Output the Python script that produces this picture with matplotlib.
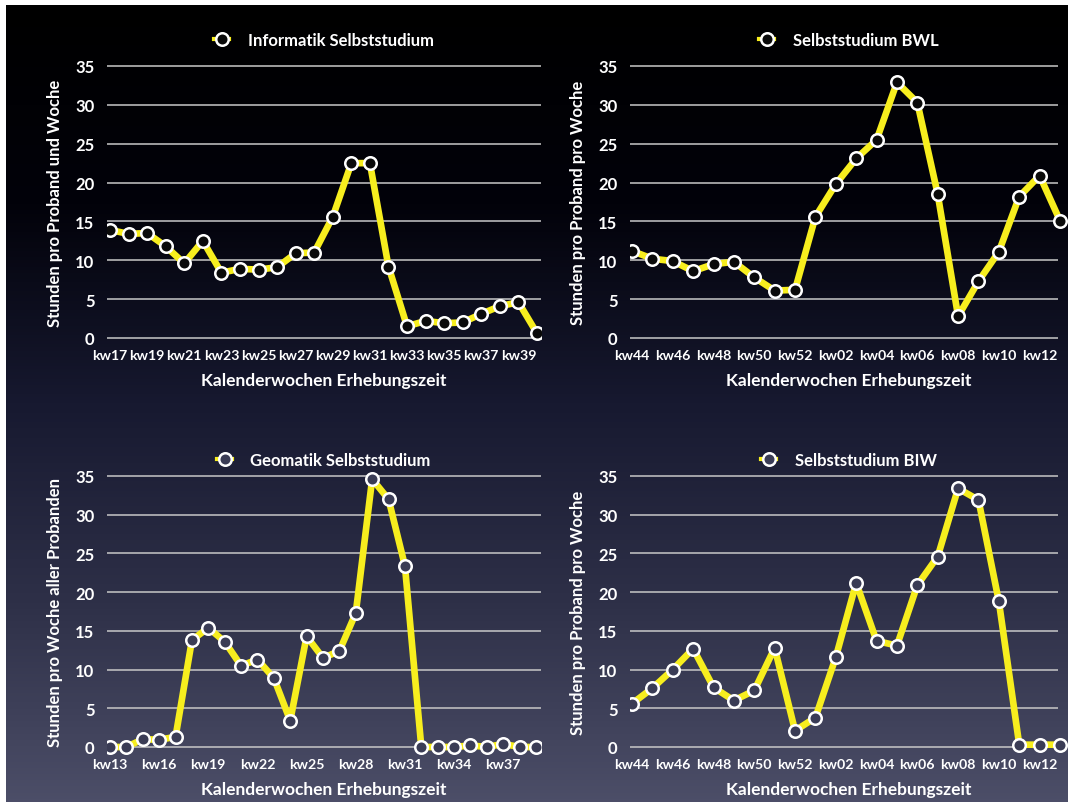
import numpy as np
import matplotlib.pyplot as plt
from matplotlib.colors import LinearSegmentedColormap

# ===================== 数据 =====================
# Informatik Selbststudium: kw17 .. kw40
inf_weeks = [f"kw{w}" for w in range(17, 41)]
inf_values = [13.9, 13.4, 13.5, 11.8, 9.6, 12.5, 8.4, 8.9, 8.8, 9.1, 10.9, 11.0,
              15.6, 22.5, 22.5, 9.2, 1.5, 2.2, 1.9, 2.0, 3.1, 4.1, 4.6, 0.6]

# Selbststudium BWL: kw44 .. kw52, kw01 .. kw13
bwl_weeks = [f"kw{w}" for w in range(44, 53)] + [f"kw{w:02d}" for w in range(1, 14)]
bwl_values = [11.2, 10.2, 9.9, 8.6, 9.5, 9.8, 7.8, 6.1, 6.2, 15.6, 19.8, 23.1,
              25.5, 32.9, 30.3, 18.5, 2.8, 7.3, 11.1, 18.2, 20.9, 15.1]

# Geomatik Selbststudium: kw13 .. kw39
geo_weeks = [f"kw{w}" for w in range(13, 40)]
geo_values = [0.0, 0.0, 1.0, 0.95, 1.3, 13.8, 15.4, 13.6, 10.5, 11.3, 8.9, 3.4,
              14.3, 11.5, 12.4, 17.3, 34.6, 32.0, 23.4, 0.0, 0.0, 0.0, 0.2, 0.0,
              0.4, 0.0, 0.0]

# Selbststudium BIW: kw44 .. kw52, kw01 .. kw13
biw_weeks = bwl_weeks
biw_values = [5.6, 7.6, 10.0, 12.7, 7.7, 6.0, 7.3, 12.8, 2.1, 3.8, 11.6, 21.2,
              13.7, 13.1, 20.9, 24.6, 33.4, 31.9, 18.8, 0.3, 0.3, 0.3]

y_ticks = [0, 5, 10, 15, 20, 25, 30, 35]

# ===================== 样式 =====================
plt.rcParams['font.family'] = ['Lato', 'DejaVu Sans']
plt.rcParams['font.weight'] = 'bold'

W, H = 1068, 803
fig = plt.figure(figsize=(W / 100, H / 100), dpi=100, facecolor='white')

# 背景渐变
bg = fig.add_axes([6 / W, 0, 1 - 6 / W, 1 - 6 / H], zorder=-10)
cmap = LinearSegmentedColormap.from_list(
    'bg', [(0.0, '#000000'), (0.25, '#02020a'), (0.5, '#171930'),
           (0.75, '#2e3048'), (1.0, '#4c4e68')])
grad = np.linspace(0, 1, 256).reshape(-1, 1)
bg.imshow(grad, aspect='auto', cmap=cmap, extent=[0, 1, 0, 1], origin='upper')
bg.set_axis_off()

YELLOW = '#f7ee1e'
TXT = 'white'


def px_axes(left, right, top, bottom):
    return fig.add_axes([left / W, 1 - bottom / H, (right - left) / W, (bottom - top) / H])


def panel(box, weeks, values, title, ylabel, step, first_px, last_px,
          y0_px, y35_px, face, legend_y, xlabel_pad):
    left, right, top, bottom = box
    ax = px_axes(left, right, top, bottom)
    ax.set_facecolor('none')
    n = len(values)
    x = np.arange(n)
    # x 轴范围: 索引 0 在 first_px, 最后一个在 last_px
    sx = (last_px - first_px) / (n - 1)
    ax.set_xlim((left - first_px) / sx, (n - 1) + (right - last_px) / sx)
    sy = (y0_px - y35_px) / 35
    ax.set_ylim(-(bottom - y0_px) / sy, 35 + (y35_px - top) / sy)

    gl, gr = (left - first_px) / sx, (n - 1) + (min(right, 1058) - last_px) / sx
    for t in y_ticks:
        ax.plot([gl, gr], [t, t], color='#c8c8c8', lw=1.1, zorder=1,
                solid_capstyle='butt')

    ax.plot(x, values, color=YELLOW, lw=4.8, zorder=2,
            marker='o', ms=9.0, mfc=face, mec='white', mew=1.8,
            label=title, clip_on=True)

    ax.set_xticks(x[::step])
    ax.set_xticklabels(weeks[::step])
    ax.set_yticks(y_ticks)
    ax.tick_params(length=0, colors=TXT, labelsize=10.2, pad=3)
    ax.tick_params(axis='y', labelsize=12, pad=9)
    for lbl in ax.get_xticklabels() + ax.get_yticklabels():
        lbl.set_fontweight('bold')
    for s in ax.spines.values():
        s.set_visible(False)

    ax.set_ylabel(ylabel, color=TXT, fontsize=12, fontweight='bold', labelpad=9)
    ax.set_xlabel('Kalenderwochen Erhebungszeit', color=TXT, fontsize=12.5,
                  fontweight='bold', labelpad=xlabel_pad)

    leg = ax.legend(loc='center', bbox_to_anchor=(0.5, 1 - (legend_y - top) / (bottom - top)),
                    frameon=False, handlelength=0.9, handletextpad=1.1,
                    prop={'size': 12, 'weight': 'bold'})
    for t in leg.get_texts():
        t.set_color(TXT)
    for h in leg.legend_handles:
        h.set_linewidth(3)
        h.set_markersize(9)
    return ax


panel((107, 541, 60, 346), inf_weeks, inf_values, 'Informatik Selbststudium',
      'Stunden pro Proband und Woche', 2, 110, 537, 339, 67, '#0a0a0a', 41, 8)
panel((630, 1068, 60, 346), bwl_weeks, bwl_values, 'Selbststudium BWL',
      'Stunden pro Proband pro Woche', 2, 632, 1060, 339, 67, '#0a0a0a', 41, 8)
panel((107, 541, 470, 755), geo_weeks, geo_values, 'Geomatik Selbststudium',
      'Stunden pro Woche aller Probanden', 3, 110, 536, 748, 477, '#3a3c55', 461, 8)
panel((630, 1068, 470, 755), biw_weeks, biw_values, 'Selbststudium BIW',
      'Stunden pro Proband pro Woche', 2, 632, 1060, 748, 477, '#3a3c55', 461, 8)

fig.savefig('out.png', dpi=100, facecolor='white')
